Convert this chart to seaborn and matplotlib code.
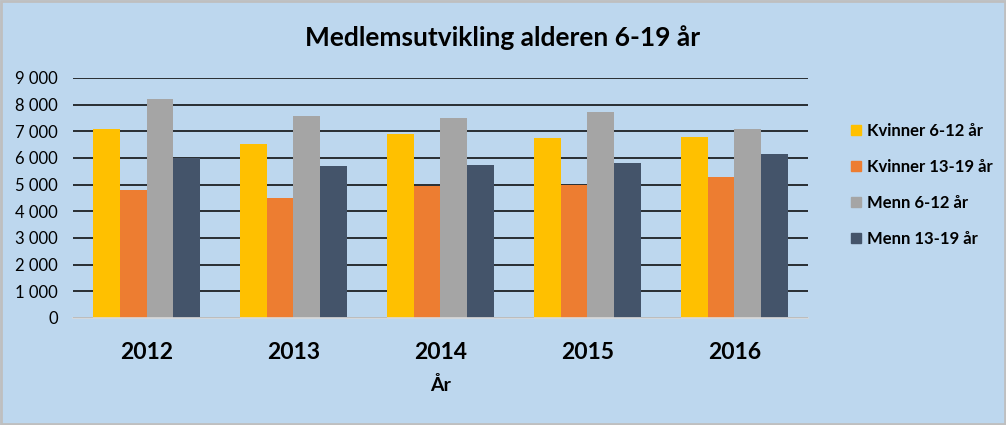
import matplotlib
matplotlib.use("Agg")
import matplotlib.pyplot as plt
import seaborn as sns
import pandas as pd
from matplotlib.ticker import FuncFormatter
from matplotlib.lines import Line2D

years = ["2012", "2013", "2014", "2015", "2016"]
series = ["Kvinner 6-12 år", "Kvinner 13-19 år", "Menn 6-12 år", "Menn 13-19 år"]
kvinner_6_12 = [7100, 6530, 6910, 6760, 6800]
kvinner_13_19 = [4800, 4510, 4930, 4990, 5290]
menn_6_12 = [8230, 7590, 7510, 7710, 7100]
menn_13_19 = [6000, 5680, 5740, 5820, 6150]
colors = ["#FFC000", "#ED7D31", "#A5A5A5", "#44546A"]

rows = []
for name, vals in zip(series, [kvinner_6_12, kvinner_13_19, menn_6_12, menn_13_19]):
    for y, v in zip(years, vals):
        rows.append({"År": y, "Serie": name, "Verdi": v})
df = pd.DataFrame(rows)

sns.set_theme(style="white")
plt.rcParams["font.family"] = ["Lato", "DejaVu Sans"]
plt.rcParams["text.color"] = "black"
plt.rcParams["xtick.color"] = "black"
plt.rcParams["ytick.color"] = "black"
plt.rcParams["axes.labelcolor"] = "black"

bg = "#BDD7EE"
fig = plt.figure(figsize=(10.06, 4.25), dpi=100, facecolor=bg)
ax = fig.add_axes([0.0726, 0.252, 0.7304, 0.5645])
ax.set_facecolor(bg)

sns.barplot(data=df, x="År", y="Verdi", hue="Serie", palette=colors,
            width=0.73, gap=0, saturation=1, linewidth=0, ax=ax, legend=False)

ax.set_ylim(0, 9000)
ax.set_yticks(range(0, 9001, 1000))
ax.yaxis.set_major_formatter(FuncFormatter(lambda v, p: f"{int(v):,}".replace(",", " ")))
ax.grid(axis="y", color="black", linewidth=1.1)
ax.set_axisbelow(True)
for s in ["top", "right", "left"]:
    ax.spines[s].set_visible(False)
ax.spines["bottom"].set_color("#D9D9D9")
ax.spines["bottom"].set_linewidth(1.2)
ax.tick_params(axis="both", length=0)
ax.tick_params(axis="y", labelsize=12, pad=11)
ax.tick_params(axis="x", labelsize=16.5, pad=17)
for t in ax.get_xticklabels():
    t.set_fontweight("bold")
ax.set_ylabel("")
ax.set_xlabel("År", fontsize=14, fontweight="bold", labelpad=10)

fig.text(0.5, 0.912, "Medlemsutvikling alderen 6-19 år", ha="center", va="center",
         fontsize=19, fontweight="bold")

handles = [Line2D([0], [0], marker="s", linestyle="", markersize=7,
                  markerfacecolor=c, markeredgecolor=c) for c in colors]
leg = fig.legend(handles, series, loc="center left", bbox_to_anchor=(0.828, 0.565),
                 frameon=False, prop={"size": 12, "weight": "bold"},
                 labelspacing=1.2, handletextpad=0.15, handlelength=1.0)

# thin grey outer frame like the reference
fig.add_artist(plt.Rectangle((0.001, 0.002), 0.998, 0.996, transform=fig.transFigure,
                             fill=False, edgecolor="#BFBFBF", linewidth=2))

fig.savefig("out.png", dpi=100, facecolor=bg)
